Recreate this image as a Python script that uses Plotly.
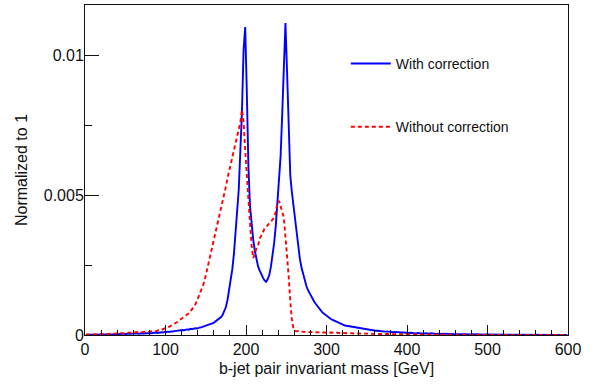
import plotly.graph_objects as go

# bin centres of 2 GeV bins, 0-600 GeV
mass_bins = list(range(1, 600, 2))

with_correction = [
    # 1-39
    0.00001,0.00000,0.00001,0.00001,0.00002,0.00001,0.00001,0.00002,0.00001,0.00002,
    0.00002,0.00001,0.00002,0.00002,0.00003,0.00002,0.00002,0.00003,0.00002,0.00003,
    # 41-79
    0.00003,0.00004,0.00003,0.00004,0.00004,0.00003,0.00005,0.00004,0.00004,0.00005,
    0.00004,0.00005,0.00005,0.00004,0.00006,0.00005,0.00005,0.00006,0.00006,0.00005,
    # 81-119
    0.00007,0.00006,0.00008,0.00007,0.00008,0.00009,0.00008,0.00010,0.00009,0.00011,
    0.00010,0.00012,0.00011,0.00013,0.00012,0.00014,0.00015,0.00014,0.00017,0.00016,
    # 121-159
    0.00018,0.00017,0.00019,0.00020,0.00019,0.00022,0.00021,0.00023,0.00024,0.00023,
    0.00026,0.00027,0.00028,0.00030,0.00031,0.00033,0.00035,0.00036,0.00040,0.00042,
    # 161-199
    0.00046,0.00050,0.00055,0.00058,0.00064,0.00072,0.00085,0.00100,0.00125,0.00160,
    0.00200,0.00235,0.00290,0.00370,0.00440,0.00520,0.00660,0.00800,0.01020,0.01100,
    # 201-239
    0.00870,0.00600,0.00460,0.00390,0.00340,0.00300,0.00270,0.00245,0.00230,0.00215,
    0.00205,0.00195,0.00190,0.00200,0.00215,0.00245,0.00285,0.00330,0.00390,0.00470,
    # 241-279
    0.00560,0.00640,0.00790,0.00960,0.01115,0.00940,0.00700,0.00570,0.00510,0.00460,
    0.00400,0.00350,0.00310,0.00270,0.00240,0.00215,0.00195,0.00175,0.00160,0.00148,
    # 281-319
    0.00138,0.00128,0.00118,0.00110,0.00102,0.00095,0.00088,0.00080,0.00076,0.00071,
    0.00066,0.00062,0.00058,0.00055,0.00052,0.00049,0.00046,0.00043,0.00040,0.00038,
    # 321-359
    0.00036,0.00034,0.00033,0.00031,0.00030,0.00029,0.00027,0.00026,0.00025,0.00024,
    0.00023,0.00022,0.00021,0.00020,0.00019,0.00019,0.00018,0.00017,0.00016,0.00016,
    # 361-399
    0.00015,0.00015,0.00014,0.00014,0.00013,0.00013,0.00012,0.00013,0.00012,0.00011,
    0.00011,0.00010,0.00011,0.00010,0.00009,0.00010,0.00009,0.00009,0.00008,0.00008,
    # 401-439
    0.00008,0.00007,0.00008,0.00007,0.00007,0.00006,0.00007,0.00006,0.00006,0.00006,
    0.00005,0.00006,0.00005,0.00005,0.00006,0.00005,0.00004,0.00005,0.00004,0.00005,
    # 441-479
    0.00004,0.00004,0.00005,0.00004,0.00003,0.00004,0.00004,0.00003,0.00004,0.00003,
    0.00003,0.00004,0.00003,0.00003,0.00002,0.00003,0.00003,0.00002,0.00003,0.00002,
    # 481-519
    0.00003,0.00002,0.00002,0.00003,0.00002,0.00002,0.00002,0.00001,0.00002,0.00002,
    0.00002,0.00001,0.00002,0.00001,0.00002,0.00001,0.00001,0.00002,0.00001,0.00001,
    # 521-559
    0.00001,0.00002,0.00001,0.00001,0.00001,0.00001,0.00002,0.00001,0.00001,0.00001,
    0.00001,0.00001,0.00000,0.00001,0.00001,0.00001,0.00001,0.00000,0.00001,0.00001,
    # 561-599
    0.00001,0.00000,0.00001,0.00001,0.00000,0.00001,0.00001,0.00000,0.00001,0.00000,
    0.00001,0.00000,0.00001,0.00000,0.00000,0.00001,0.00000,0.00001,0.00000,0.00000,
]

without_correction = [
    # 1-39
    0.00001,0.00002,0.00001,0.00002,0.00002,0.00003,0.00002,0.00003,0.00003,0.00002,
    0.00004,0.00003,0.00004,0.00004,0.00003,0.00005,0.00004,0.00005,0.00005,0.00006,
    # 41-79
    0.00006,0.00005,0.00007,0.00006,0.00007,0.00008,0.00007,0.00008,0.00009,0.00008,
    0.00009,0.00010,0.00009,0.00011,0.00010,0.00011,0.00012,0.00011,0.00013,0.00012,
    # 81-119
    0.00013,0.00012,0.00014,0.00015,0.00014,0.00017,0.00016,0.00019,0.00021,0.00023,
    0.00025,0.00028,0.00030,0.00033,0.00037,0.00040,0.00044,0.00047,0.00052,0.00056,
    # 121-159
    0.00060,0.00064,0.00068,0.00072,0.00078,0.00084,0.00092,0.00100,0.00110,0.00122,
    0.00135,0.00150,0.00165,0.00180,0.00200,0.00225,0.00245,0.00270,0.00295,0.00320,
    # 161-199
    0.00345,0.00370,0.00395,0.00420,0.00445,0.00470,0.00500,0.00530,0.00560,0.00590,
    0.00610,0.00635,0.00660,0.00680,0.00700,0.00725,0.00760,0.00805,0.00760,0.00660,
    # 201-239
    0.00560,0.00470,0.00400,0.00320,0.00275,0.00290,0.00310,0.00320,0.00345,0.00355,
    0.00370,0.00380,0.00385,0.00395,0.00400,0.00405,0.00415,0.00420,0.00440,0.00470,
    # 241-279
    0.00480,0.00460,0.00445,0.00420,0.00350,0.00290,0.00210,0.00120,0.00055,0.00022,
    0.00015,0.00013,0.00014,0.00012,0.00013,0.00011,0.00012,0.00011,0.00010,0.00011,
    # 281-319
    0.00010,0.00011,0.00009,0.00010,0.00010,0.00009,0.00010,0.00009,0.00009,0.00008,
    0.00009,0.00008,0.00009,0.00008,0.00008,0.00007,0.00008,0.00007,0.00008,0.00007,
    # 321-359
    0.00007,0.00006,0.00007,0.00006,0.00007,0.00006,0.00006,0.00005,0.00006,0.00005,
    0.00006,0.00005,0.00005,0.00004,0.00005,0.00005,0.00004,0.00005,0.00004,0.00004,
    # 361-399
    0.00004,0.00003,0.00004,0.00004,0.00003,0.00004,0.00003,0.00003,0.00004,0.00003,
    0.00003,0.00002,0.00003,0.00003,0.00002,0.00003,0.00002,0.00003,0.00002,0.00002,
    # 401-439
    0.00002,0.00003,0.00002,0.00002,0.00002,0.00003,0.00002,0.00002,0.00002,0.00001,
    0.00002,0.00002,0.00001,0.00002,0.00002,0.00001,0.00002,0.00001,0.00002,0.00001,
    # 441-479
    0.00001,0.00002,0.00001,0.00001,0.00002,0.00001,0.00001,0.00001,0.00002,0.00001,
    0.00001,0.00001,0.00001,0.00002,0.00001,0.00001,0.00001,0.00001,0.00001,0.00001,
    # 481-519
    0.00001,0.00001,0.00001,0.00001,0.00000,0.00001,0.00001,0.00001,0.00001,0.00000,
    0.00001,0.00001,0.00001,0.00000,0.00001,0.00001,0.00000,0.00001,0.00001,0.00000,
    # 521-559
    0.00001,0.00001,0.00000,0.00001,0.00001,0.00000,0.00001,0.00000,0.00001,0.00001,
    0.00000,0.00001,0.00000,0.00001,0.00000,0.00001,0.00001,0.00000,0.00001,0.00000,
    # 561-599
    0.00001,0.00000,0.00001,0.00000,0.00001,0.00000,0.00000,0.00001,0.00000,0.00001,
    0.00000,0.00001,0.00000,0.00000,0.00001,0.00000,0.00000,0.00001,0.00000,0.00000,
]

assert len(with_correction) == len(mass_bins) == len(without_correction)

y_tick_vals = [0, 0.005, 0.01]
y_tick_text = ["0", "0.005", "0.01"]
x_tick_vals = [0, 100, 200, 300, 400, 500, 600]

FONT = "Liberation Sans, Arial, Helvetica, sans-serif"

fig = go.Figure()
fig.add_trace(go.Scatter(
    x=mass_bins, y=with_correction, mode="lines", name="With correction",
    line=dict(color="#0000ff", width=1.9), legendgroup="a",
))
fig.add_trace(go.Scatter(
    x=mass_bins, y=without_correction, mode="lines", name="Without correction",
    line=dict(color="#ff0000", width=1.9, dash="4px,3px"), legendgroup="b",
))

fig.update_layout(
    width=599, height=386,
    margin=dict(l=85, r=31, t=5, b=51),
    paper_bgcolor="white", plot_bgcolor="white",
    font=dict(family=FONT, size=16, color="#111111"),
    showlegend=True,
    legend=dict(
        x=0.54, y=0.87, xanchor="left", yanchor="top",
        bgcolor="rgba(0,0,0,0)", borderwidth=0,
        font=dict(size=14, color="#111111"),
        tracegroupgap=42, itemwidth=40,
    ),
    xaxis=dict(
        range=[0, 600], tickvals=x_tick_vals,
        ticks="inside", ticklen=10, tickwidth=1, tickcolor="#111111",
        minor=dict(dtick=20, ticks="inside", ticklen=5, tickwidth=1, tickcolor="#111111"),
        showline=True, linecolor="#111111", linewidth=1, mirror=True,
        showgrid=False, zeroline=False,
        title=dict(text="b-jet pair invariant mass [GeV]", font=dict(size=16), standoff=5),
        tickfont=dict(size=16),
    ),
    yaxis=dict(
        range=[0, 0.01179], tickvals=y_tick_vals, ticktext=y_tick_text,
        ticks="inside", ticklen=14, tickwidth=1, tickcolor="#111111",
        minor=dict(tickvals=[0.0025, 0.0075], ticks="inside", ticklen=7, tickwidth=1, tickcolor="#111111"),
        showline=True, linecolor="#111111", linewidth=1, mirror=True,
        showgrid=False, zeroline=False,
        ticklabelstandoff=-3,
        title=dict(text="Normalized to 1", font=dict(size=16), standoff=12),
        tickfont=dict(size=16),
    ),
)

fig.write_html("out.html")
